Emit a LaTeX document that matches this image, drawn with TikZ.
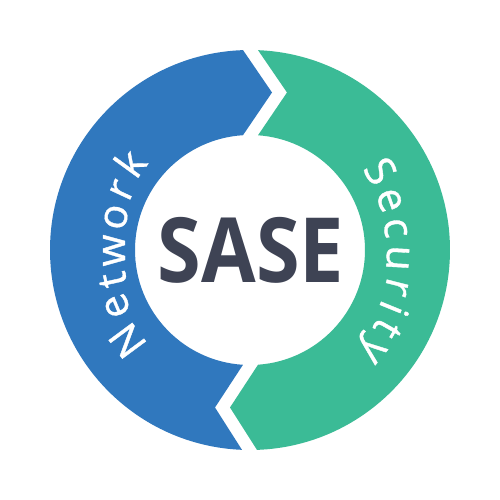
\documentclass[tikz,border=0pt]{standalone}
\usepackage{fontspec}
\setmainfont{Open Sans}
\newfontfamily\ringfont{Open Sans}[FakeBold=0.9]
\definecolor{netblue}{RGB}{48,120,190}
\definecolor{secgreen}{RGB}{59,187,150}
\definecolor{sasedark}{RGB}{62,67,84}
\begin{document}
\begin{tikzpicture}[x=1pt,y=1pt,
  ringletter/.style={text=white,inner sep=0pt,anchor=base,font=\ringfont\fontsize{41}{41}\selectfont},
  title/.style={text=sasedark,inner sep=0pt,xscale=0.88,font=\fontsize{90}{90}\selectfont\bfseries}]
\useasboundingbox (-250,-250) rectangle (250,250);
\fill[white] (-250,-250) rectangle (250,250);
% blue arc (Network)
\fill[netblue] (92.0:200) arc[start angle=92.0,end angle=267.7,radius=200]
  -- (-35,-157.5) -- (266.5:115) arc[start angle=266.5,end angle=93.5,radius=115]
  -- (22,157.5) -- cycle;
% green arc (Security)
\fill[secgreen] (87.7:200) arc[start angle=87.7,end angle=-88.0,radius=200]
  -- (-20,-157.5) -- (-86:115) arc[start angle=-86,end angle=86,radius=115]
  -- (37,157.5) -- cycle;
\node[title] (sase) at (1,0) {SASE};
\foreach \ch/\ang/\rad [count=\i] in {N/216.5/138,e/202.8/133,t/192.3/127,w/180.2/125,o/166.2/127,r/155.0/130,k/144.0/133}
  \node[ringletter,rotate=\ang-90] (net\i) at (\ang:\rad) {\ch};
\foreach \ch/\ang/\rad [count=\i] in {S/31.2/138,e/19.6/137,c/8.6/136,u/-3.1/137,r/-14.2/140,i/-22.2/141,t/-29.8/145,y/-39.2/148}
  \node[ringletter,rotate=\ang-90] (sec\i) at (\ang:\rad) {\ch};
\end{tikzpicture}
\end{document}
